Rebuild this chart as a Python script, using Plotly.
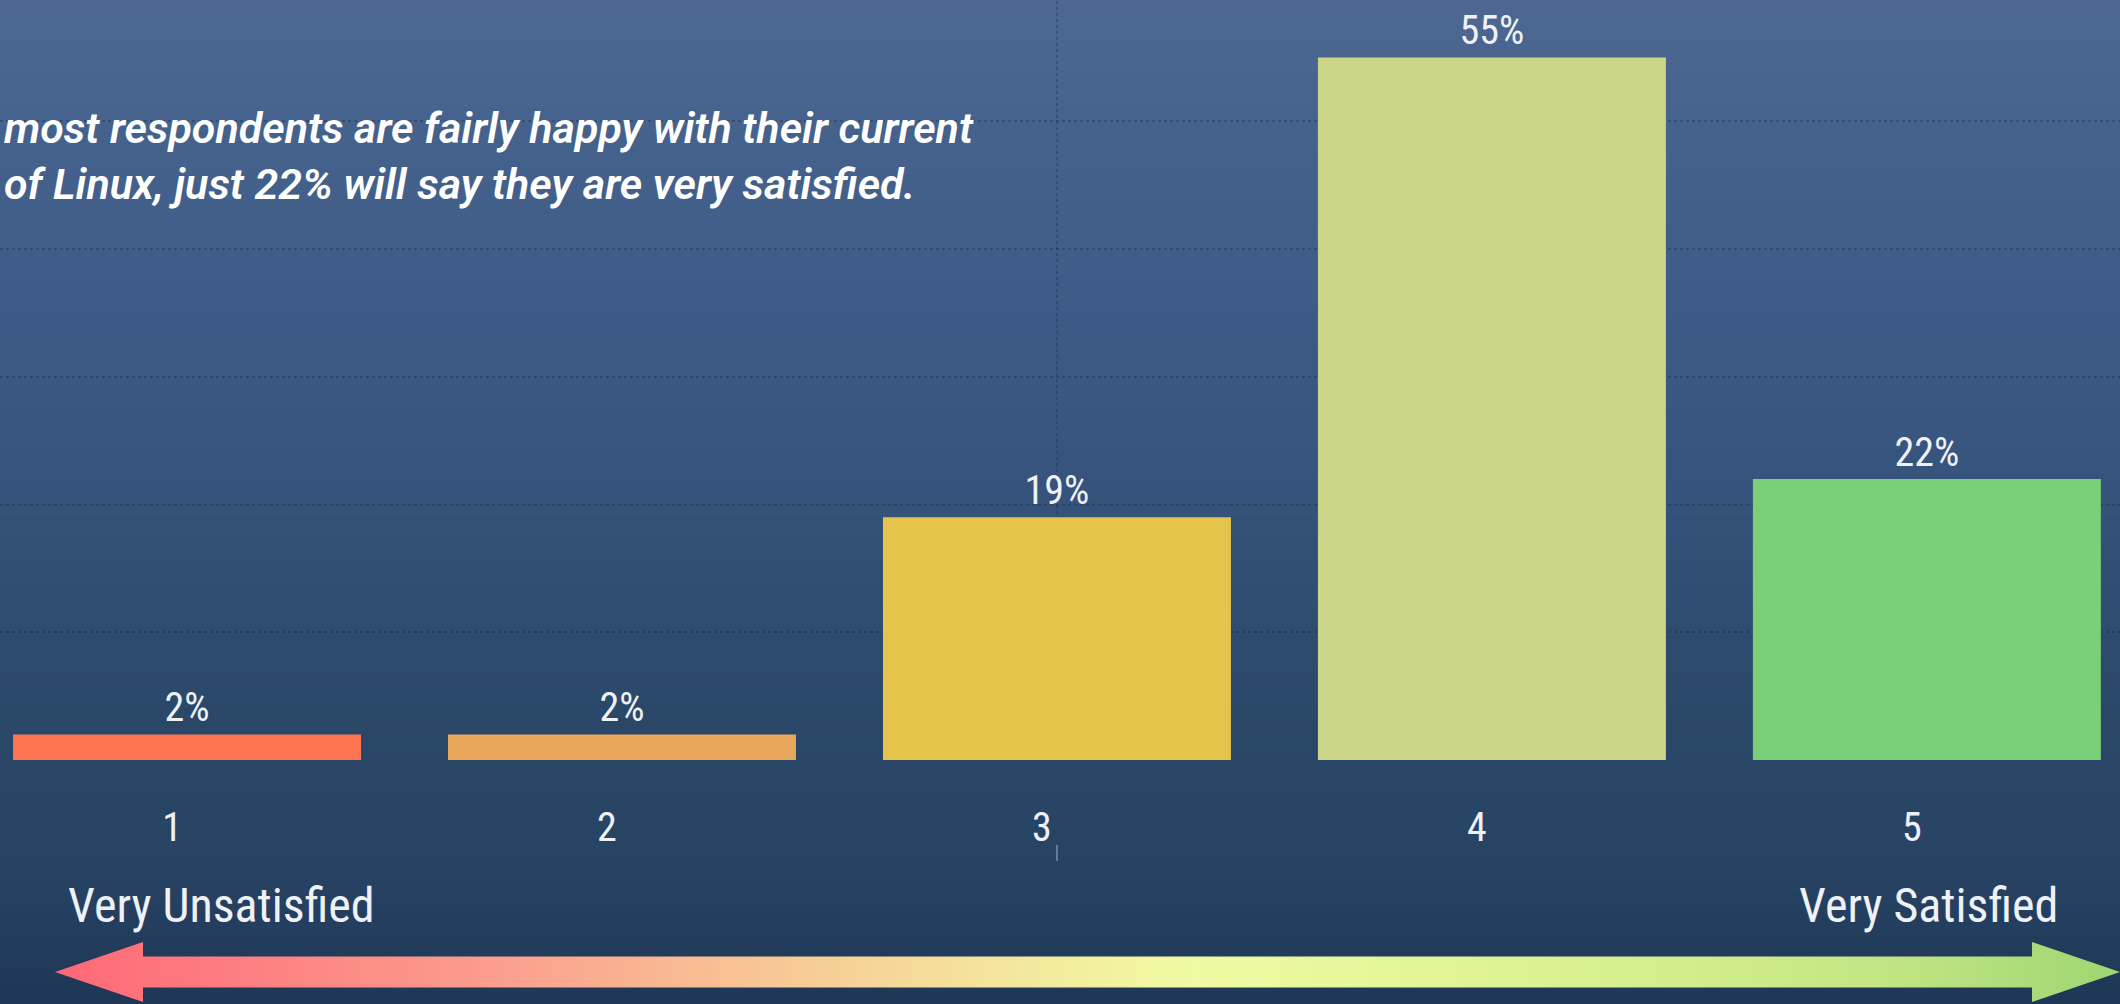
import numpy as np
import plotly.graph_objects as go

W, H = 2120, 1004

CATEGORIAS = ['1', '2', '3', '4', '5']
VALORES = [2, 2, 19, 55, 22]
ETIQUETAS = ['2%', '2%', '19%', '55%', '22%']
COLORES = ['#FF7552', '#E9A75B', '#E4C44A', '#CBD689', '#7BCF79']

NOTA = ('most respondents are fairly happy with their current<br>'
        'of Linux, just 22% will say they are very satisfied.')

FUENTE = '"Roboto Condensed", "Liberation Sans Narrow", "DejaVu Sans Condensed", Roboto, sans-serif'
BLANCO = '#EEF1F5'
GRID = 'rgba(25,45,75,0.4)'

# fondo tipo "agua": degradado vertical en franjas
FONDO_STOPS = [(0, '#4C6893'), (300, '#3E5C87'), (520, '#34527A'),
               (720, '#2B4869'), (860, '#284465'), (1004, '#1F3756')]


def _hex(c):
    return np.array([int(c[i:i + 2], 16) for i in (1, 3, 5)], dtype=float)


def _fondo(n=120):
    ys = [s[0] for s in FONDO_STOPS]
    cs = np.array([_hex(s[1]) for s in FONDO_STOPS])
    shapes = []
    edges = np.linspace(0, H, n + 1)
    for a, b in zip(edges[:-1], edges[1:]):
        m = (a + b) / 2
        rgb = [np.interp(m, ys, cs[:, k]) for k in range(3)]
        shapes.append(dict(
            type='rect', xref='paper', yref='paper', layer='below',
            x0=0, x1=1, y0=1 - b / H, y1=1 - a / H + 0.0005,
            fillcolor='rgb(%d,%d,%d)' % tuple(int(v) for v in rgb),
            line=dict(width=0)))
    return shapes


fig = go.Figure()

fig.add_trace(go.Bar(
    x=CATEGORIAS, y=VALORES, marker=dict(color=COLORES, line=dict(width=0)),
    width=0.8, text=ETIQUETAS, textposition='outside', cliponaxis=False,
    textfont=dict(family=FUENTE, size=40, color=BLANCO),
    showlegend=False, hoverinfo='x+y',
))

# flecha doble con degradado (eje en pixeles que cubre toda la figura)
AY, MEDIO = 972, 15.5      # centro y, medio grosor del cuerpo
HEAD_L, HEAD_H = 88, 30    # largo y media altura de la punta
X_IZQ, X_DER = 55, 2120
px = [X_IZQ, X_IZQ + HEAD_L, X_IZQ + HEAD_L, X_DER - HEAD_L, X_DER - HEAD_L,
      X_DER, X_DER - HEAD_L, X_DER - HEAD_L, X_IZQ + HEAD_L, X_IZQ + HEAD_L, X_IZQ]
py = [AY, AY - HEAD_H, AY - MEDIO, AY - MEDIO, AY - HEAD_H,
      AY, AY + HEAD_H, AY + MEDIO, AY + MEDIO, AY + HEAD_H, AY]
fig.add_trace(go.Scatter(
    x=px, y=py, xaxis='x2', yaxis='y2',
    mode='lines', line=dict(width=0), fill='toself',
    fillgradient=dict(type='horizontal', colorscale=[
        [0, '#FF6878'], [0.2, '#FB9A8C'], [0.33, '#F8C294'],
        [0.45, '#F4E49C'], [0.55, '#F0FAA2'], [0.72, '#DCF292'],
        [0.88, '#C4E684'], [1, '#9ED672']]),
    showlegend=False, hoverinfo='skip',
))

X3 = CATEGORIAS.index('3')

fig.update_layout(
    width=W, height=H,
    margin=dict(l=0, r=0, t=0, b=0, pad=0),
    paper_bgcolor='#2E4A6E', plot_bgcolor='rgba(0,0,0,0)',
    font=dict(family=FUENTE, color=BLANCO),
    bargap=0.2,
    shapes=_fondo() + [
        dict(type='line', xref='x', yref='y', x0=X3, x1=X3, y0=0, y1=59.5,
             layer='below', line=dict(color=GRID, width=1.5, dash='dot')),
        dict(type='line', xref='x', yref='paper', x0=X3, x1=X3,
             y0=1 - 861 / H, y1=1 - 845 / H,
             line=dict(color='rgba(200,210,225,0.5)', width=1.5)),
    ],
    xaxis=dict(
        domain=[0, 1], type='category', range=[-0.43, 4.444],
        showgrid=False, zeroline=False, showline=False, ticks='',
        tickfont=dict(family=FUENTE, size=40, color=BLANCO),
        ticklabelstandoff=40, ticklabelshift=-15,
    ),
    yaxis=dict(
        domain=[244 / H, 1], range=[0, 59.5], tick0=0, dtick=10,
        showgrid=True, griddash='dot', gridcolor=GRID,
        gridwidth=1.5, zeroline=False, showticklabels=False,
    ),
    xaxis2=dict(domain=[0, 1], range=[0, W], visible=False, anchor='y2'),
    yaxis2=dict(domain=[0, 1], range=[H, 0], visible=False, anchor='x2'),
    annotations=[
        dict(text=NOTA, xref='paper', yref='paper', x=0.001, y=1 - 156 / H,
             xanchor='left', yanchor='middle', align='left', showarrow=False,
             font=dict(family='Roboto, "Open Sans", sans-serif', size=43,
                       color='white', style='italic', weight=600)),
        dict(text='Very Unsatisfied', xref='paper', yref='paper',
             x=221 / W, y=1 - 905 / H, xanchor='center', yanchor='middle',
             showarrow=False, font=dict(family=FUENTE, size=48, color=BLANCO)),
        dict(text='Very Satisfied', xref='paper', yref='paper',
             x=1928 / W, y=1 - 905 / H, xanchor='center', yanchor='middle',
             showarrow=False, font=dict(family=FUENTE, size=48, color=BLANCO)),
    ],
)

fig.write_html("out.html", config={'displayModeBar': False},
               post_script="document.body.style.margin='0';")
